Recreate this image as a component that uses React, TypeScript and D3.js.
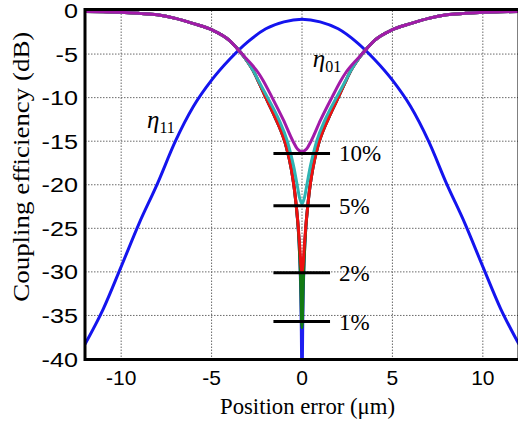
import React from 'react';
import * as d3 from 'd3';

// Axis ticks
const X_TICKS = [-10, -5, 0, 5, 10];
const Y_TICKS = [0, -5, -10, -15, -20, -25, -30, -35, -40];

// η11 coupling efficiency (dB) against position error (μm)
const ETA11_X = [-12, -11, -10, -9, -8, -7, -6, -5, -4, -3, -2, -1, 0, 1, 2, 3, 4, 5, 6, 7, 8, 9, 10, 11, 12];
const ETA11_DB = [-38.3, -34.3, -29.4, -24.4, -19.9, -15.0, -11.0, -8.0, -5.6, -3.6, -2.1, -1.3, -1.0, -1.3, -2.1, -3.6, -5.6, -8.0, -11.0, -15.0, -19.9, -24.4, -29.4, -34.3, -38.3];

// η01 for a pure fundamental mode (0 %)
const ETA01_0_X = [-12, -11, -10, -9, -8, -7, -6, -5, -4, -3.4, -3.0, -2.7, -2.4, -2.0, -1.5, -0.96, -0.85, -0.6, -0.44, -0.33, -0.2, -0.12, -0.07, -0.04, -0.02, 0, 0.02, 0.04, 0.07, 0.12, 0.2, 0.33, 0.44, 0.6, 0.85, 0.96, 1.5, 2.0, 2.4, 2.7, 3.0, 3.4, 4, 5, 6, 7, 8, 9, 10, 11, 12];
const ETA01_0_DB = [-0.1, -0.15, -0.2, -0.33, -0.5, -0.9, -1.5, -2.2, -3.45, -4.8, -5.9, -6.9, -8.2, -10, -12.2, -15, -15.8, -18.1, -20.2, -22.2, -25.3, -28.6, -32.3, -36.1, -40.5, -50, -40.5, -36.1, -32.3, -28.6, -25.3, -22.2, -20.2, -18.1, -15.8, -15, -12.2, -10, -8.2, -6.9, -5.9, -4.8, -3.45, -2.2, -1.5, -0.9, -0.5, -0.33, -0.2, -0.15, -0.1];

// η01 with 1 % higher-order content
const ETA01_1_X = [-12, -11, -10, -9, -8, -7, -6, -5, -4, -3.4, -3.0, -2.7, -2.4, -2.0, -1.5, -0.96, -0.85, -0.6, -0.44, -0.33, -0.2, -0.12, -0.07, -0.04, -0.02, 0, 0.02, 0.04, 0.07, 0.12, 0.2, 0.33, 0.44, 0.6, 0.85, 0.96, 1.5, 2.0, 2.4, 2.7, 3.0, 3.4, 4, 5, 6, 7, 8, 9, 10, 11, 12];
const ETA01_1_DB = [-0.1, -0.15, -0.2, -0.33, -0.5, -0.9, -1.5, -2.2, -3.45, -4.8, -5.9, -6.9, -8.2, -10, -12.2, -15, -15.8, -18.1, -20.2, -22.2, -25.3, -28.6, -31.5, -34.3, -35.8, -36.4, -35.8, -34.3, -31.5, -28.6, -25.3, -22.2, -20.2, -18.1, -15.8, -15, -12.2, -10, -8.2, -6.9, -5.9, -4.8, -3.45, -2.2, -1.5, -0.9, -0.5, -0.33, -0.2, -0.15, -0.1];

// η01 with 2 % higher-order content
const ETA01_2_X = [-12, -11, -10, -9, -8, -7, -6, -5, -4, -3.4, -3.0, -2.7, -2.4, -2.0, -1.5, -0.96, -0.85, -0.6, -0.44, -0.33, -0.2, -0.12, -0.06, 0, 0.06, 0.12, 0.2, 0.33, 0.44, 0.6, 0.85, 0.96, 1.5, 2.0, 2.4, 2.7, 3.0, 3.4, 4, 5, 6, 7, 8, 9, 10, 11, 12];
const ETA01_2_DB = [-0.1, -0.15, -0.2, -0.33, -0.5, -0.9, -1.5, -2.2, -3.45, -4.8, -5.9, -6.9, -8.2, -10, -12.2, -15, -15.8, -18.1, -20.2, -22.2, -25.0, -27.2, -29.2, -30.1, -29.2, -27.2, -25.0, -22.2, -20.2, -18.1, -15.8, -15, -12.2, -10, -8.2, -6.9, -5.9, -4.8, -3.45, -2.2, -1.5, -0.9, -0.5, -0.33, -0.2, -0.15, -0.1];

// η01 with 5 % higher-order content
const ETA01_5_X = [-12, -11, -10, -9, -8, -7, -6, -5, -4, -3.4, -3.0, -2.7, -2.4, -1.9, -1.27, -0.81, -0.63, -0.45, -0.27, -0.12, 0, 0.12, 0.27, 0.45, 0.63, 0.81, 1.27, 1.9, 2.4, 2.7, 3.0, 3.4, 4, 5, 6, 7, 8, 9, 10, 11, 12];
const ETA01_5_DB = [-0.1, -0.15, -0.2, -0.33, -0.5, -0.9, -1.5, -2.2, -3.45, -4.8, -5.9, -6.9, -8.1, -10, -12.56, -15, -16.4, -18, -20, -21.6, -22.2, -21.6, -20, -18, -16.4, -15, -12.56, -10, -8.1, -6.9, -5.9, -4.8, -3.45, -2.2, -1.5, -0.9, -0.5, -0.33, -0.2, -0.15, -0.1];

// η01 with 10 % higher-order content
const ETA01_10_X = [-12, -11, -10, -9, -8, -7, -6, -5, -4, -3.4, -3.0, -2.4, -2.16, -1.65, -1.03, -0.5, -0.25, 0, 0.25, 0.5, 1.03, 1.65, 2.16, 2.4, 3.0, 3.4, 4, 5, 6, 7, 8, 9, 10, 11, 12];
const ETA01_10_DB = [-0.1, -0.15, -0.2, -0.33, -0.5, -0.9, -1.5, -2.2, -3.45, -4.8, -5.7, -7.2, -8.0, -10, -12.56, -15, -15.9, -16.2, -15.9, -15, -12.56, -10, -8.0, -7.2, -5.7, -4.8, -3.45, -2.2, -1.5, -0.9, -0.5, -0.33, -0.2, -0.15, -0.1];

// Minimum-efficiency markers and their mode-content labels
const LEVEL_DB = [-16.4, -22.4, -30.1, -35.7];
const LEVEL_LABELS = ['10%', '5%', '2%', '1%'];
const LEVEL_SPAN = [-1.58, 1.55];

const W = 518;
const H = 424;
const LEFT = 85;
const RIGHT = 519;
const TOP = 10.5;
const BOTTOM = 359;

const x = d3.scaleLinear().domain([-12, 12]).range([LEFT, RIGHT]);
const y = d3.scaleLinear().domain([0, -40]).range([TOP, BOTTOM]);

const line = d3
  .line<[number, number]>()
  .x((d) => x(d[0]))
  .y((d) => y(d[1]))
  .curve(d3.curveMonotoneX);

const zip = (xs: number[], ys: number[]): [number, number][] => xs.map((v, i) => [v, ys[i]]);

const SERIES = [
  { id: 'eta11', pts: zip(ETA11_X, ETA11_DB), color: '#1414ee' },
  { id: 'eta01-0', pts: zip(ETA01_0_X, ETA01_0_DB), color: '#1e1ef0' },
  { id: 'eta01-1', pts: zip(ETA01_1_X, ETA01_1_DB), color: '#127a12' },
  { id: 'eta01-2', pts: zip(ETA01_2_X, ETA01_2_DB), color: '#ee1010' },
  { id: 'eta01-5', pts: zip(ETA01_5_X, ETA01_5_DB), color: '#2fb4b4' },
  { id: 'eta01-10', pts: zip(ETA01_10_X, ETA01_10_DB), color: '#a21aa8' },
];

const SANS = '"Liberation Sans", Arial, sans-serif';
const SERIF = '"Liberation Serif", "Times New Roman", serif';

export default function App() {
  return (
    <svg
      width={W}
      height={H}
      viewBox={`0 0 ${W} ${H}`}
      style={{ position: 'absolute', left: 0, top: 0, background: '#fff' }}
    >
      <defs>
        <clipPath id="plot-clip">
          <rect x={LEFT} y={TOP - 2} width={RIGHT - LEFT} height={BOTTOM - TOP + 2} />
        </clipPath>
      </defs>
      <rect x={0} y={0} width={W} height={H} fill="#fff" />

      {/* dotted grid */}
      <g stroke="#6a6a6a" strokeWidth={1} strokeDasharray="1.5 1.5">
        {X_TICKS.map((t) => (
          <line key={`gx${t}`} x1={x(t)} x2={x(t)} y1={TOP} y2={BOTTOM} />
        ))}
        {Y_TICKS.filter((t) => t !== 0 && t !== -40).map((t) => (
          <line key={`gy${t}`} x1={LEFT} x2={RIGHT} y1={y(t)} y2={y(t)} />
        ))}
      </g>

      {/* curves */}
      <g clipPath="url(#plot-clip)" fill="none" strokeWidth={3} strokeLinejoin="round">
        {SERIES.map((s) => (
          <path key={s.id} d={line(s.pts) || ''} stroke={s.color} />
        ))}
      </g>

      {/* level markers */}
      <g>
        {LEVEL_DB.map((v, i) => (
          <g key={LEVEL_LABELS[i]}>
            <line
              x1={x(LEVEL_SPAN[0])}
              x2={x(LEVEL_SPAN[1])}
              y1={y(v)}
              y2={y(v)}
              stroke="#000"
              strokeWidth={3}
            />
            <text
              x={x(LEVEL_SPAN[1]) + 9}
              y={y(v) + 8}
              fontFamily={SERIF}
              fontSize={23}
              fill="#000"
            >
              {LEVEL_LABELS[i]}
            </text>
          </g>
        ))}
      </g>

      {/* curve names */}
      <text x={x(-8.57)} y={y(-13.5)} fontFamily={SERIF} fontSize={25} fill="#000">
        <tspan fontStyle="italic">η</tspan>
        <tspan fontSize={16} dy={5}>11</tspan>
      </text>
      <text x={x(0.6)} y={y(-6.5)} fontFamily={SERIF} fontSize={25} fill="#000">
        <tspan fontStyle="italic">η</tspan>
        <tspan fontSize={16} dy={5}>01</tspan>
      </text>

      {/* frame */}
      <rect
        x={LEFT}
        y={TOP - 1}
        width={RIGHT - LEFT}
        height={BOTTOM - TOP + 1.5}
        fill="none"
        stroke="#000"
        strokeWidth={3}
      />

      {/* tick labels */}
      <g fontFamily={SANS} fill="#000">
        {X_TICKS.map((t) => (
          <text key={`tx${t}`} x={x(t)} y={385} textAnchor="middle" fontSize={21}>
            {t}
          </text>
        ))}
        {Y_TICKS.map((t) => (
          <text
            key={`ty${t}`}
            transform={`translate(78,${y(t) + 7.5}) scale(1.2,1)`}
            textAnchor="end"
            fontSize={21}
          >
            {t}
          </text>
        ))}
      </g>

      {/* axis titles */}
      <text
        x={307.5}
        y={414}
        textAnchor="middle"
        fontFamily={SERIF}
        fontSize={23}
        fill="#000"
        textLength={175}
        lengthAdjust="spacingAndGlyphs"
      >
        Position error (μm)
      </text>
      <text
        transform={`translate(29,166.7) rotate(-90)`}
        textAnchor="middle"
        fontFamily={SERIF}
        fontSize={24}
        fill="#000"
        textLength={270}
        lengthAdjust="spacingAndGlyphs"
      >
        Coupling efficiency (dB)
      </text>
    </svg>
  );
}
